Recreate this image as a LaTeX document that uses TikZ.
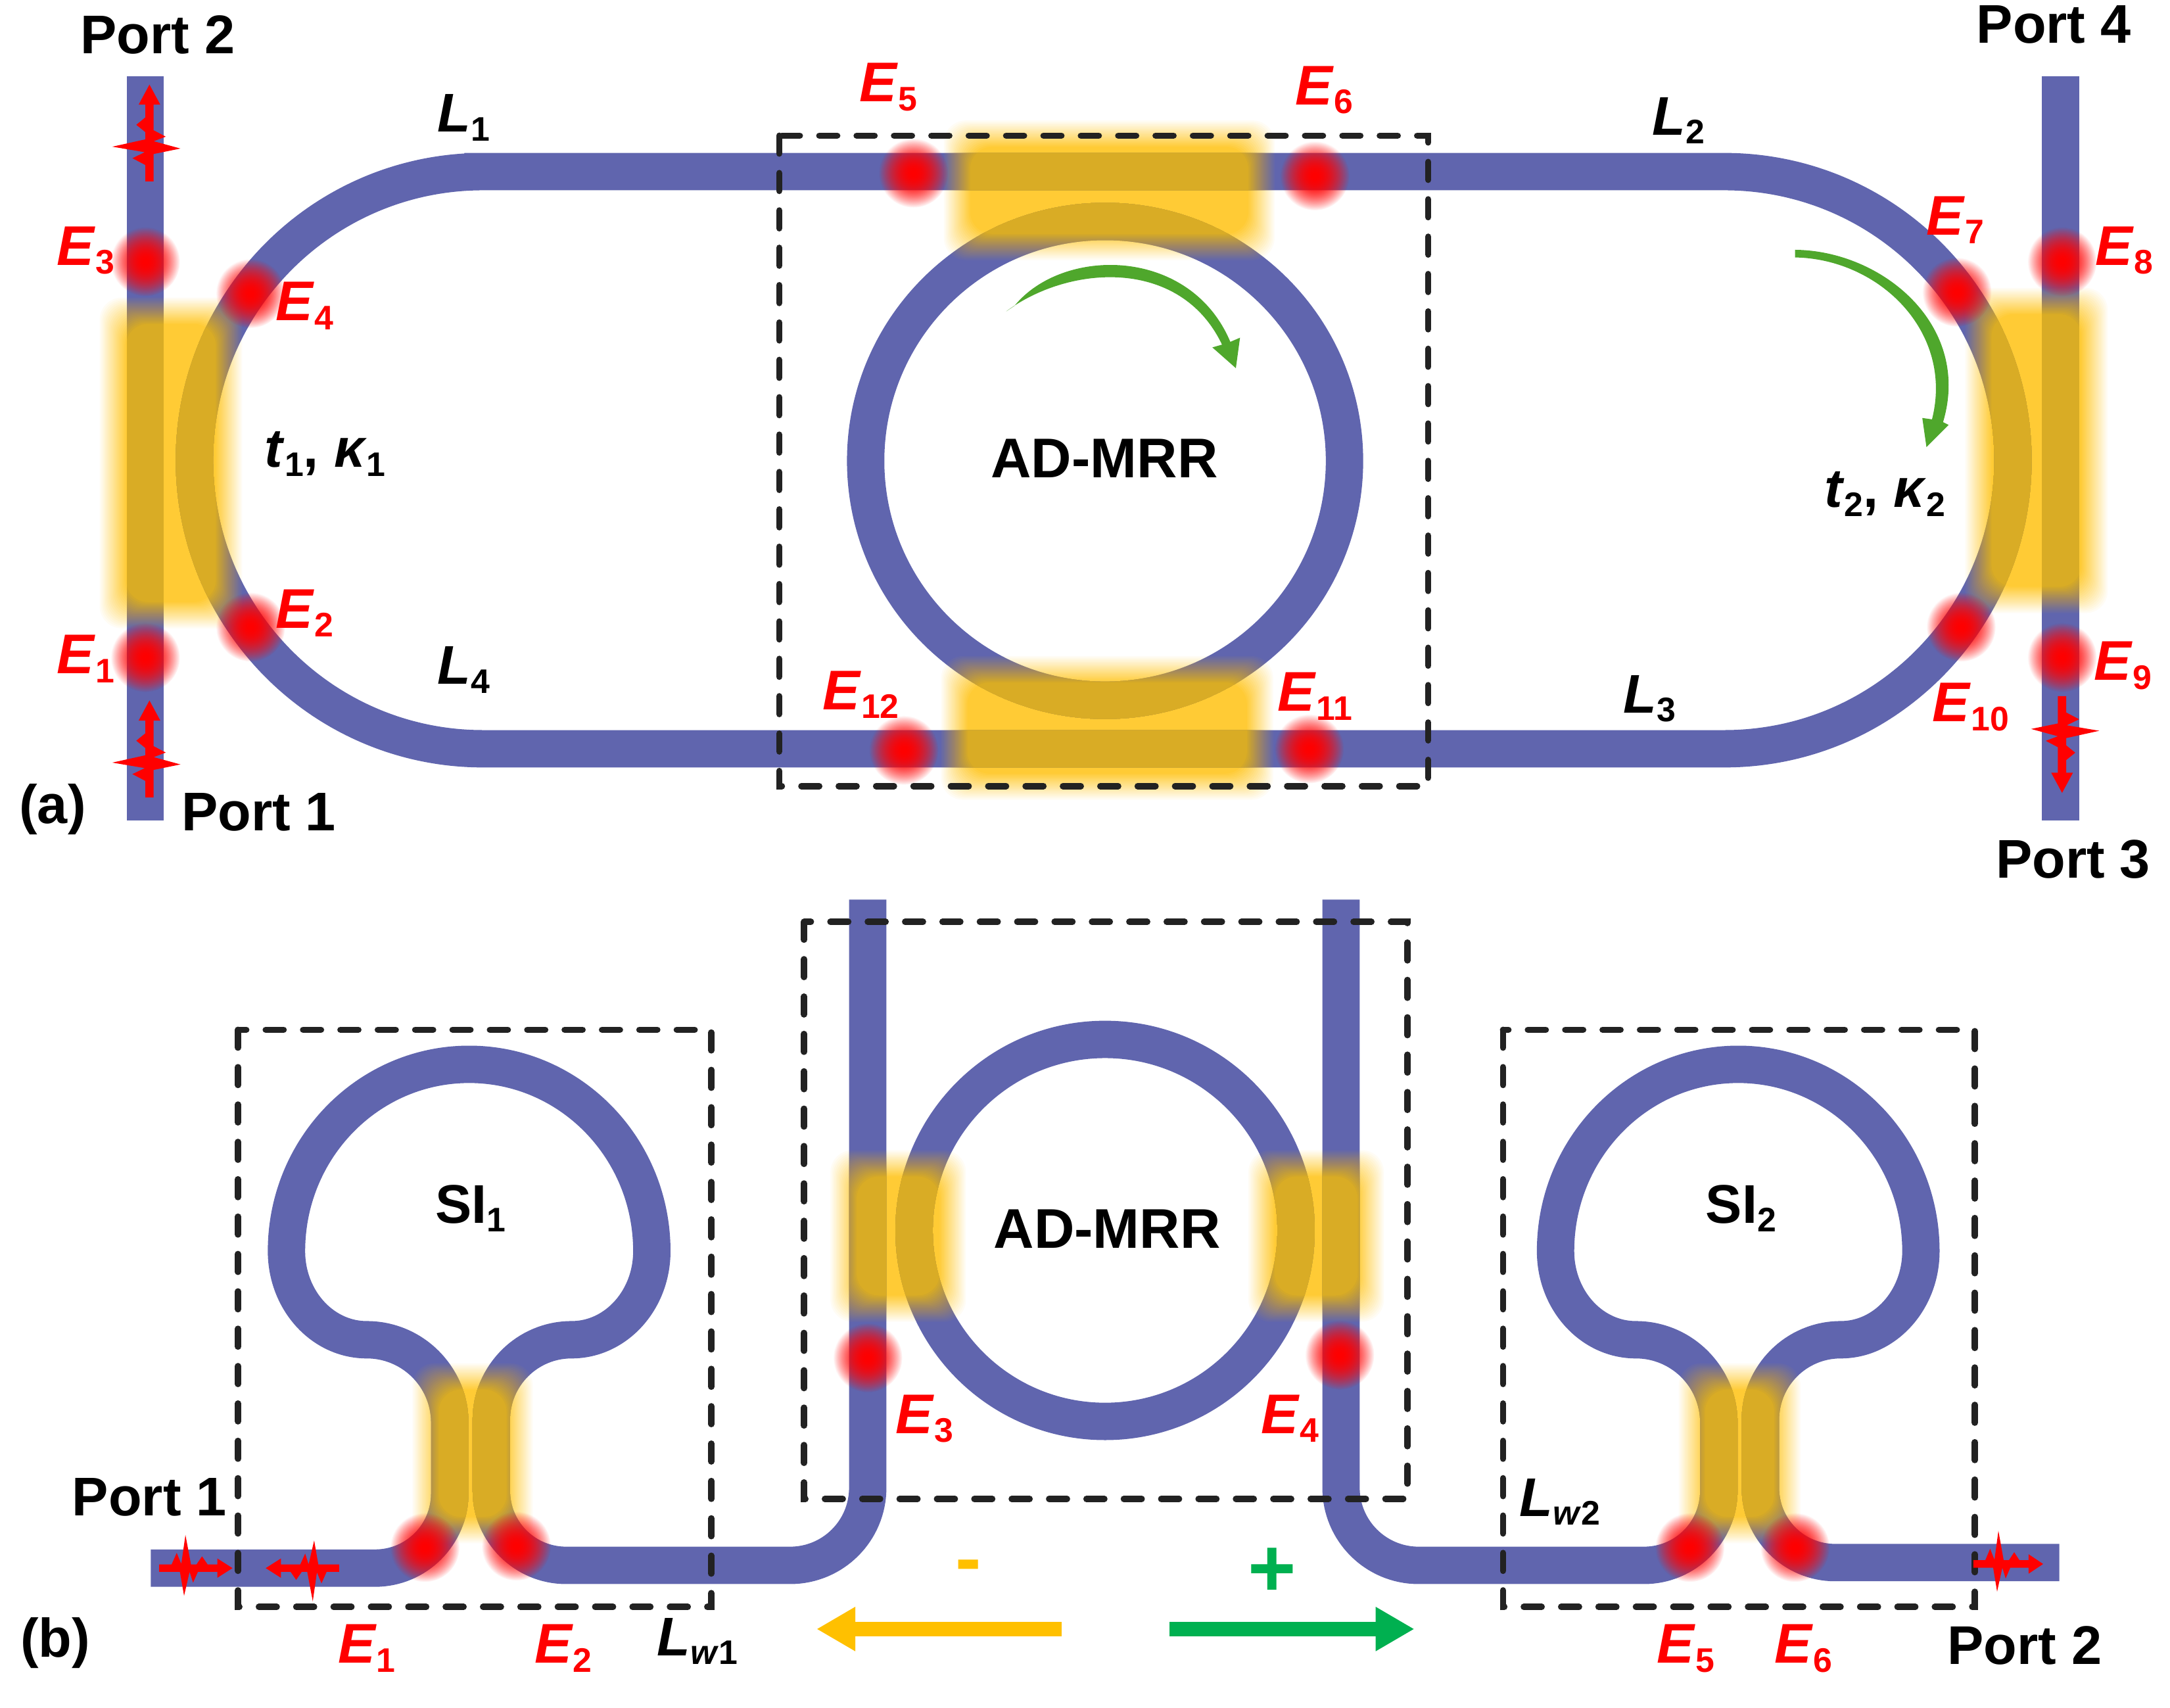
\documentclass[tikz,border=0pt]{standalone}
\usepackage{fontspec}
\setmainfont{Liberation Sans}
\usetikzlibrary{arrows.meta,fadings}
\definecolor{wgblue}{HTML}{6065AE}
\definecolor{wggold}{HTML}{D9AC25}
\definecolor{glowy}{HTML}{FFCB35}
\definecolor{hotred}{HTML}{FF0000}
\definecolor{ringgreen}{HTML}{4FA72C}
\definecolor{minusor}{HTML}{FFC000}
\definecolor{plusgr}{HTML}{00B050}
\definecolor{boxink}{HTML}{222222}
\tikzfading[name=spotfade, inner color=transparent!0, middle color=transparent!0, outer color=transparent!100]
\tikzset{
  wg/.style={line width=5.4mm},
  dashbox/.style={draw=boxink, line width=.9mm, line cap=round, dash pattern=on 2.6mm off 2.8mm},
  dirarr/.style={-{Triangle[length=5.6mm,width=6mm]}, line width=2.1mm},
  blk/.style={font=\fontsize{22.4}{24}\selectfont\bfseries, text=black, inner sep=0pt},
  redlbl/.style={font=\fontsize{23}{26}\selectfont\bfseries, text=hotred, inner sep=0pt},
  pulse/.pic={
    \fill[hotred] (-19,-2.7) -- (-10,-2.7) -- (-6.3,-11) -- (-3,-3) -- (0,-24) -- (4,-2.7) -- (8,-2.7) -- (12,-8.5)
      -- (16,-2.7) -- (23,-2.7) -- (23,-7) -- (34,0) -- (23,7) -- (23,2.7) -- (9,2.7) -- (5.5,10.5) -- (3,2.7)
      -- (-1,20) -- (-4,2.7) -- (-19,2.7) -- cycle;
  },
}
\newcommand{\elab}[2]{\textit{#1}\raisebox{-.16em}{\fontsize{14}{16}\selectfont #2}}
% soft yellow patch under the guides
\newcommand{\glowbox}[4]{
  \foreach \g [evaluate=\g as \op using 1/(20-\g)] in {0,...,19}
    { \fill[glowy, opacity=\op, rounded corners=3.2mm] (#1-10+\g,#2-10+\g) rectangle (#3+10-\g,#4+10-\g); }
}
% guides repainted in gold inside a patch
\newcommand{\goldbox}[5]{
  \foreach \g [evaluate=\g as \op using 1/(20-\g)] in {0,...,19}
    { \begin{scope}
        \clip[rounded corners=3.2mm] (#1-10+\g,#2-10+\g) rectangle (#3+10-\g,#4+10-\g);
        #5{wggold,opacity=\op}
      \end{scope} }
}
\newcommand{\upperguides}[1]{
  \draw[wg,#1] (105,55) -- (105,593);
  \draw[wg,#1] (1489,55) -- (1489,593);
  \draw[wg,#1] (349,124) -- (1246,124) arc[start angle=-90,end angle=90,radius=208.5]
    -- (349,541) arc[start angle=90,end angle=270,radius=208.5] -- cycle;
  \draw[wg,#1] (798.5,333) circle[radius=173];
}
\newcommand{\lowerguides}[1]{
  \draw[wg,#1] (109,1133) -- (271,1133) arc[start angle=90,end angle=0,radius=54] -- (325,1028)
    arc[start angle=0,end angle=-90,radius=60]
    arc[start angle=90,end angle=180,x radius=58,y radius=64]
    arc[start angle=180,end angle=360,x radius=132,y radius=135]
    arc[start angle=0,end angle=90,x radius=58,y radius=64]
    arc[start angle=-90,end angle=-180,radius=58] -- (355,1077)
    arc[start angle=180,end angle=90,radius=54] -- (571,1131)
    arc[start angle=90,end angle=0,radius=56] -- (627,650);
  \draw[wg,#1] (969,650) -- (969,1075) arc[start angle=180,end angle=90,radius=56] -- (1188,1131)
    arc[start angle=90,end angle=0,radius=54] -- (1242,1028)
    arc[start angle=0,end angle=-90,radius=60]
    arc[start angle=90,end angle=180,x radius=58,y radius=64]
    arc[start angle=180,end angle=360,x radius=132,y radius=135]
    arc[start angle=0,end angle=90,x radius=58,y radius=64]
    arc[start angle=-90,end angle=-180,radius=58] -- (1272,1075)
    arc[start angle=180,end angle=90,radius=54] -- (1488,1129);
  \draw[wg,#1] (798.5,889) circle[radius=138];
}
\begin{document}
\begin{tikzpicture}[x=.2mm,y=-.2mm]
  \useasboundingbox (0,0) rectangle (1568,1233.6);
  % patches
  \glowbox{82}{225}{165}{444}
  \glowbox{1430}{218}{1513}{433}
  \glowbox{692}{97}{911}{178}
  \glowbox{690}{484}{910}{568}
  \glowbox{610}{841}{688}{945}
  \glowbox{912}{841}{990}{945}
  \glowbox{308}{995}{375}{1105}
  \glowbox{1223}{995}{1291}{1105}
  % guides
  \upperguides{wgblue}
  \lowerguides{wgblue}
  \goldbox{82}{225}{165}{444}{\upperguides}
  \goldbox{1430}{218}{1513}{433}{\upperguides}
  \goldbox{692}{97}{911}{178}{\upperguides}
  \goldbox{690}{484}{910}{568}{\upperguides}
  \goldbox{610}{841}{688}{945}{\lowerguides}
  \goldbox{912}{841}{990}{945}{\lowerguides}
  \goldbox{308}{995}{375}{1105}{\lowerguides}
  \goldbox{1223}{995}{1291}{1105}{\lowerguides}
  % red spots
  \foreach \px/\py in {105/189,105/475,181/212,181/453,660/125,950/127,653/542,946/541,1414/211,1490/189,1490/475,1417/453,
                       307/1118,373/1117,627/981,968/979,1221/1118,1297/1118}
    { \fill[hotred, path fading=spotfade] (\px,\py) circle[radius=25];
      \fill[hotred, path fading=spotfade] (\px,\py) circle[radius=25]; }
  % frames
  \draw[dashbox] (563,98) rectangle (1032,568);
  \draw[dashbox] (581,666) rectangle (1017,1083);
  \draw[dashbox] (172,744) rectangle (514,1161);
  \draw[dashbox] (1086,744) rectangle (1427,1161);
  % pulses
  \pic[rotate=90,xscale=1.32,yscale=1.12] at (108,106) {pulse};
  \pic[rotate=90,xscale=1.32,yscale=1.12] at (108,551) {pulse};
  \pic[rotate=-90,xscale=1.32,yscale=1.12] at (1490,528) {pulse};
  \pic at (134,1133) {pulse};
  \pic[rotate=180] at (226,1133) {pulse};
  \pic[xscale=.95] at (1444,1130) {pulse};
  % circulation arrows, thin at the tail
  \fill[ringgreen] (733,221) .. controls (768,178) and (860,178) .. (889,247) -- (896,244) -- (893,266) -- (876,251)
    -- (883,249) .. controls (853,186) and (773,191) .. (727,225) -- cycle;
  \fill[ringgreen] (1297,180.5) .. controls (1360,181) and (1425,235) .. (1404,305) -- (1408,307) -- (1392,323)
    -- (1389,302) -- (1396,303) .. controls (1412,240) and (1358,187) .. (1297,186) -- cycle;
  % bias arrows
  \draw[dirarr, color=minusor] (767,1177) -- (590,1177);
  \draw[dirarr, color=plusgr] (845,1177) -- (1022,1177);
  % upper labels
  \node[blk] (porta2) at (114,25) {Port 2};
  \node[blk] (porta4) at (1484,18) {Port 4};
  \node[blk] (porta1) at (187,587) {Port 1};
  \node[blk] (porta3) at (1498,621) {Port 3};
  \node[blk] (tagA) at (38,585) {(a)};
  \node[blk] (len1) at (335,85) {\elab{L}{1}};
  \node[blk] (len2) at (1213,87) {\elab{L}{2}};
  \node[blk] (len3) at (1192,505) {\elab{L}{3}};
  \node[blk] (len4) at (335,484) {\elab{L}{4}};
  \node[blk] (coup1) at (235,328) {\elab{t}{1}, \elab{κ}{1}};
  \node[blk] (coup2) at (1362,357) {\elab{t}{2}, \elab{κ}{2}};
  \node[blk, font=\fontsize{23}{24}\selectfont\bfseries] (mrrA) at (798,331) {AD-MRR};
  \node[redlbl] (ea1) at (62,476) {\elab{E}{1}};
  \node[redlbl] (ea2) at (220,443) {\elab{E}{2}};
  \node[redlbl] (ea3) at (62,181) {\elab{E}{3}};
  \node[redlbl] (ea4) at (220,221) {\elab{E}{4}};
  \node[redlbl] (ea5) at (642,63) {\elab{E}{5}};
  \node[redlbl] (ea6) at (957,65) {\elab{E}{6}};
  \node[redlbl] (ea7) at (1413,159) {\elab{E}{7}};
  \node[redlbl] (ea8) at (1535,181) {\elab{E}{8}};
  \node[redlbl] (ea9) at (1534,481) {\elab{E}{9}};
  \node[redlbl] (ea10) at (1424,511) {\elab{E}{10}};
  \node[redlbl] (ea11) at (950,503) {\elab{E}{11}};
  \node[redlbl] (ea12) at (622,502) {\elab{E}{12}};
  % lower labels
  \node[blk] (portb1) at (108,1082) {Port 1};
  \node[blk] (portb2) at (1463,1189) {Port 2};
  \node[blk] (tagB) at (40,1187) {(b)};
  \node[blk, font=\fontsize{23}{24}\selectfont\bfseries] (mrrB) at (800,888) {AD-MRR};
  \node[blk] (si1) at (340,873) {SI\raisebox{-.16em}{\fontsize{14}{16}\selectfont 1}};
  \node[blk] (si2) at (1258,873) {SI\raisebox{-.16em}{\fontsize{14}{16}\selectfont 2}};
  \node[blk] (lw1) at (504,1186) {\elab{L}{\textit{w}1}};
  \node[blk] (lw2) at (1127,1085) {\elab{L}{\textit{w}2}};
  \node[redlbl] (eb1) at (265,1191) {\elab{E}{1}};
  \node[redlbl] (eb2) at (407,1191) {\elab{E}{2}};
  \node[redlbl] (eb3) at (668,1025) {\elab{E}{3}};
  \node[redlbl] (eb4) at (932,1025) {\elab{E}{4}};
  \node[redlbl] (eb5) at (1218,1191) {\elab{E}{5}};
  \node[redlbl] (eb6) at (1303,1191) {\elab{E}{6}};
  \node[blk, text=minusor, font=\fontsize{32}{32}\selectfont\bfseries] (minus) at (700,1136) {-};
  \node[blk, text=plusgr, font=\fontsize{34}{34}\selectfont\bfseries] (plus) at (919,1136) {+};
\end{tikzpicture}
\end{document}
